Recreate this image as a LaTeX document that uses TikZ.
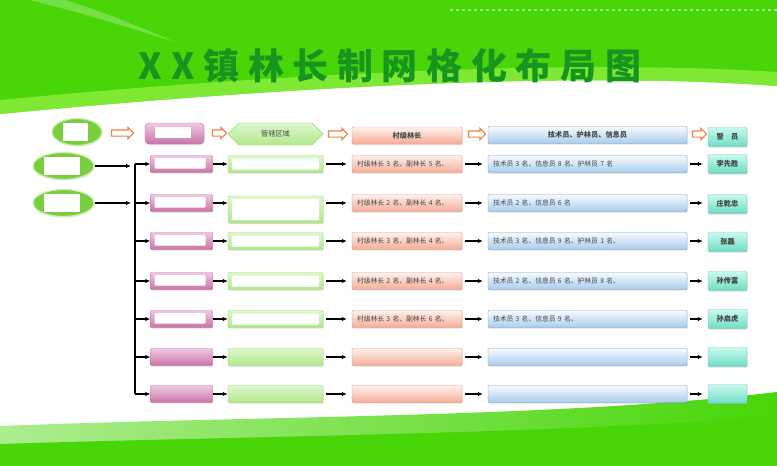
\documentclass[tikz,border=0pt]{standalone}
\usepackage{fontspec}
\newfontfamily\cjk{Noto Sans CJK SC}
\newfontfamily\titlefont{Noto Sans CJK SC}[LetterSpace=24]
\usetikzlibrary{arrows.meta,shapes.geometric,shapes.arrows,shapes.symbols,shadows}

\definecolor{bggreen}{RGB}{72,214,8}
\definecolor{bglight}{RGB}{150,240,70}
\definecolor{titlegreen}{RGB}{22,150,30}
\definecolor{ellgreen}{RGB}{120,206,60}
\definecolor{pinktop}{RGB}{240,200,228}
\definecolor{pinkbot}{RGB}{200,116,166}
\definecolor{pinkline}{RGB}{190,110,160}
\definecolor{areatop}{RGB}{222,248,204}
\definecolor{areabot}{RGB}{178,232,140}
\definecolor{arealine}{RGB}{150,215,110}
\definecolor{chieftop}{RGB}{255,242,236}
\definecolor{chiefbot}{RGB}{244,172,150}
\definecolor{chiefline}{RGB}{226,150,130}
\definecolor{stafftop}{RGB}{246,251,255}
\definecolor{staffbot}{RGB}{168,204,236}
\definecolor{staffline}{RGB}{120,160,205}
\definecolor{policetop}{RGB}{200,250,238}
\definecolor{policebot}{RGB}{112,220,196}
\definecolor{policeline}{RGB}{120,200,180}
\definecolor{hollow}{RGB}{238,130,70}
\definecolor{boxtext}{RGB}{70,70,70}

\begin{document}
\begin{tikzpicture}[x=1pt, y=-1pt,
  every node/.style={font=\cjk, text=boxtext},
  conn/.style={-{Latex[length=5pt,width=4.5pt]}, line width=1.1pt},
  gapconn/.style={conn, shorten <=3pt, shorten >=5pt},
  framed/.style n args={4}{path picture={
    \fill[white] ([xshift=#1, yshift=-#2]path picture bounding box.north west)
      rectangle ([xshift=-#3, yshift=#4]path picture bounding box.south east);}},
  box/.style={rectangle, rounded corners=1pt, inner sep=0pt,
    drop shadow={opacity=0.25, shadow xshift=0.6pt, shadow yshift=-1pt}},
  oval/.style={ellipse, draw=white!65!ellgreen, line width=1.2pt, fill=ellgreen,
    inner sep=0pt, minimum height=27pt, framed={11pt}{4pt}{14pt}{5pt},
    drop shadow={opacity=0.25, shadow xshift=0.6pt, shadow yshift=-1pt}},
  hollowarrow/.style={single arrow, draw=hollow, fill=white, line width=1.1pt,
    inner sep=2.5pt, single arrow head extend=2.5pt},
  pinkbox/.style={box, draw=pinkline, top color=pinktop, bottom color=pinkbot,
    minimum width=62pt, minimum height=17pt},
  areabox/.style={box, draw=arealine, top color=areatop, bottom color=areabot,
    minimum width=95pt, minimum height=17pt},
  chiefbox/.style={box, draw=chiefline, top color=chieftop, bottom color=chiefbot,
    minimum width=110pt, minimum height=17pt, inner xsep=5pt, text width=100pt,
    align=left, font=\cjk\fontsize{6.8}{7}\selectfont},
  staffbox/.style={box, draw=staffline, top color=stafftop, bottom color=staffbot,
    minimum width=199pt, minimum height=17pt, inner xsep=5pt, text width=189pt,
    align=left, font=\cjk\fontsize{6.8}{7}\selectfont},
  policebox/.style={box, draw=policeline, top color=policetop, bottom color=policebot,
    minimum width=39pt, minimum height=19pt, text=black!75,
    font=\cjk\bfseries\fontsize{7.2}{8}\selectfont},
  headtext/.style={font=\cjk\bfseries\fontsize{7.2}{8}\selectfont}]

  \useasboundingbox (0,0) rectangle (777,466);

  % background
  \fill[white] (0,0) rectangle (777,466);
  \fill[bggreen] (0,0) -- (777,0) -- (777,86)
    .. controls (560,70) and (250,90) .. (0,114) -- cycle;
  \fill[bglight, opacity=0.7] (0,100) .. controls (250,76) and (560,58) .. (777,72)
    -- (777,86) .. controls (560,70) and (250,90) .. (0,114) -- cycle;
  \fill[white, opacity=0.25] (30,0) .. controls (90,15) and (130,28) .. (175,42)
    .. controls (120,18) and (85,6) .. (65,0) -- cycle;
  \draw[white, opacity=0.5, dashed, line width=1.5pt] (450,10) -- (777,10);

  \shade[left color=white!55!bggreen, right color=bggreen]
    (0,466) -- (0,426) .. controls (250,416) and (560,418) .. (777,392)
    -- (777,466) -- cycle;
  \fill[bggreen] (0,466) -- (0,444) .. controls (250,436) and (560,434) .. (777,416)
    -- (777,466) -- cycle;

  % title
  \node[font=\titlefont\bfseries\fontsize{36}{36}\selectfont, text=titlegreen]
    (title) at (390,66) {XX镇林长制网格化布局图};

  % header row
  \node[oval, minimum width=50pt] (ell1) at (77,132) {};
  \node[hollowarrow, minimum height=22pt] (harrow1) at (121,133) {};
  \node[box, rounded corners=4pt, draw=pinkline, top color=pinktop, bottom color=pinkbot,
    minimum width=59pt, minimum height=21pt]
    (pinkhead) at (174.5,133.5) {};
  \node[fill=white, minimum width=36pt, minimum height=11pt, inner sep=0pt]
    (pinkslot) at (173,132) {};
  \node[hollowarrow, minimum height=14pt] (harrow2) at (218,133) {};
  \node[signal, signal to=east and west, signal pointer angle=90, draw=arealine,
    top color=areatop, bottom color=areabot, minimum width=95pt, minimum height=22pt,
    inner sep=0pt, font=\cjk\fontsize{7.2}{8}\selectfont]
    (areahead) at (275.5,134) {管辖区域};
  \node[hollowarrow, minimum height=19pt] (harrow3) at (336.5,134) {};
  \node[chiefbox, text width=, align=center, headtext] (chiefhead) at (407,135.5) {村级林长};
  \node[hollowarrow, minimum height=17pt] (harrow4) at (475.5,134) {};
  \node[staffbox, text width=, align=center, headtext] (staffhead) at (587.5,135) {技术员、护林员、信息员};
  \node[hollowarrow, minimum height=14pt] (harrow5) at (698,134) {};
  \node[policebox] (policehead) at (727.5,137) {警　员};

  % left ovals and trunk
  \node[oval, minimum width=61pt] (ell2) at (63.5,166) {};
  \node[oval, minimum width=61pt] (ell3) at (63.5,203) {};
  \coordinate (feed) at (131,0);
  \coordinate (trunk) at (135,164);

  % row 1
  \node[pinkbox, framed={4pt}{2.5pt}{7pt}{4pt}] (pink1) at (181.5,164) {};
  \node[areabox, framed={4pt}{3pt}{4pt}{3pt}] (area1) at (275.5,164) {};
  \node[chiefbox] (chief1) at (407,164) {村级林长 3 名、副林长 5 名、};
  \node[staffbox] (staff1) at (587.5,164) {技术员 3 名、信息员 8 名、护林员 7 名};
  \node[policebox] (police1) at (727.5,164) {李先胜};

  % row 2
  \node[pinkbox, framed={4pt}{2.5pt}{7pt}{4pt}] (pink2) at (181.5,203) {};
  \node[areabox, minimum height=27pt, framed={4pt}{3pt}{4pt}{3pt}] (area2) at (275.5,209.5) {};
  \node[chiefbox] (chief2) at (407,203) {村级林长 2 名、副林长 4 名、};
  \node[staffbox] (staff2) at (587.5,203) {技术员 2 名、信息员 6 名};
  \node[policebox] (police2) at (727.5,204) {庄乾忠};

  % row 3
  \node[pinkbox, framed={4pt}{2.5pt}{7pt}{4pt}] (pink3) at (181.5,241) {};
  \node[areabox, framed={4pt}{3pt}{4pt}{3pt}] (area3) at (275.5,241) {};
  \node[chiefbox] (chief3) at (407,241) {村级林长 3 名、副林长 4 名、};
  \node[staffbox] (staff3) at (587.5,241) {技术员 3 名、信息员 9 名、护林员 1 名、};
  \node[policebox] (police3) at (727.5,242) {张磊};

  % row 4
  \node[pinkbox, framed={4pt}{2.5pt}{7pt}{4pt}] (pink4) at (181.5,281) {};
  \node[areabox, framed={4pt}{3pt}{4pt}{3pt}] (area4) at (275.5,281) {};
  \node[chiefbox] (chief4) at (407,281) {村级林长 2 名、副林长 4 名、};
  \node[staffbox] (staff4) at (587.5,281) {技术员 2 名、信息员 6 名、护林员 8 名、};
  \node[policebox] (police4) at (727.5,281) {孙传富};

  % row 5
  \node[pinkbox, framed={4pt}{2.5pt}{7pt}{4pt}] (pink5) at (181.5,319) {};
  \node[areabox, framed={4pt}{3pt}{4pt}{3pt}] (area5) at (275.5,319) {};
  \node[chiefbox] (chief5) at (407,319) {村级林长 3 名、副林长 6 名、};
  \node[staffbox] (staff5) at (587.5,319) {技术员 3 名、信息员 9 名、};
  \node[policebox] (police5) at (727.5,319) {孙启虎};

  % row 6 (empty)
  \node[pinkbox] (pink6) at (181.5,357) {};
  \node[areabox] (area6) at (275.5,357) {};
  \node[chiefbox] (chief6) at (407,357) {};
  \node[staffbox] (staff6) at (587.5,357) {};
  \node[policebox] (police6) at (727.5,357) {};

  % row 7 (empty)
  \node[pinkbox] (pink7) at (181.5,394) {};
  \node[areabox] (area7) at (275.5,394) {};
  \node[chiefbox] (chief7) at (407,394) {};
  \node[staffbox] (staff7) at (587.5,394) {};
  \node[policebox] (police7) at (727.5,394) {};

  % feeds into the trunk
  \draw[conn] (ell2.east) -- (ell2.east -| feed);
  \draw[conn] (ell3.east) -- (ell3.east -| feed);
  \draw[line width=1.1pt] (trunk) -- (trunk |- pink7.west);

  % branches
  \draw[conn] (trunk |- pink1.west) -- (pink1.west);
  \draw[conn] (trunk |- pink2.west) -- (pink2.west);
  \draw[conn] (trunk |- pink3.west) -- (pink3.west);
  \draw[conn] (trunk |- pink4.west) -- (pink4.west);
  \draw[conn] (trunk |- pink5.west) -- (pink5.west);
  \draw[conn] (trunk |- pink6.west) -- (pink6.west);
  \draw[conn] (trunk |- pink7.west) -- (pink7.west);

  % along the rows
  \draw[conn] (pink1) -- (area1);
  \draw[gapconn] (area1) -- (chief1);
  \draw[gapconn] (chief1) -- (staff1);
  \draw[gapconn] (staff1) -- (police1);

  \draw[conn] (pink2.east) -- (pink2.east -| area2.west);
  \draw[gapconn] (chief2.west -| area2.east) -- (chief2.west);
  \draw[gapconn] (chief2) -- (staff2);
  \draw[gapconn] (staff2.east) -- (staff2.east -| police2.west);

  \draw[conn] (pink3) -- (area3);
  \draw[gapconn] (area3) -- (chief3);
  \draw[gapconn] (chief3) -- (staff3);
  \draw[gapconn] (staff3.east) -- (staff3.east -| police3.west);

  \draw[conn] (pink4) -- (area4);
  \draw[gapconn] (area4) -- (chief4);
  \draw[gapconn] (chief4) -- (staff4);
  \draw[gapconn] (staff4) -- (police4);

  \draw[conn] (pink5) -- (area5);
  \draw[gapconn] (area5) -- (chief5);
  \draw[gapconn] (chief5) -- (staff5);
  \draw[gapconn] (staff5) -- (police5);

  \draw[conn] (pink6) -- (area6);
  \draw[gapconn] (area6) -- (chief6);
  \draw[gapconn] (chief6) -- (staff6);
  \draw[gapconn] (staff6) -- (police6);

  \draw[conn] (pink7) -- (area7);
  \draw[gapconn] (area7) -- (chief7);
  \draw[gapconn] (chief7) -- (staff7);
  \draw[gapconn] (staff7) -- (police7);
\end{tikzpicture}
\end{document}
